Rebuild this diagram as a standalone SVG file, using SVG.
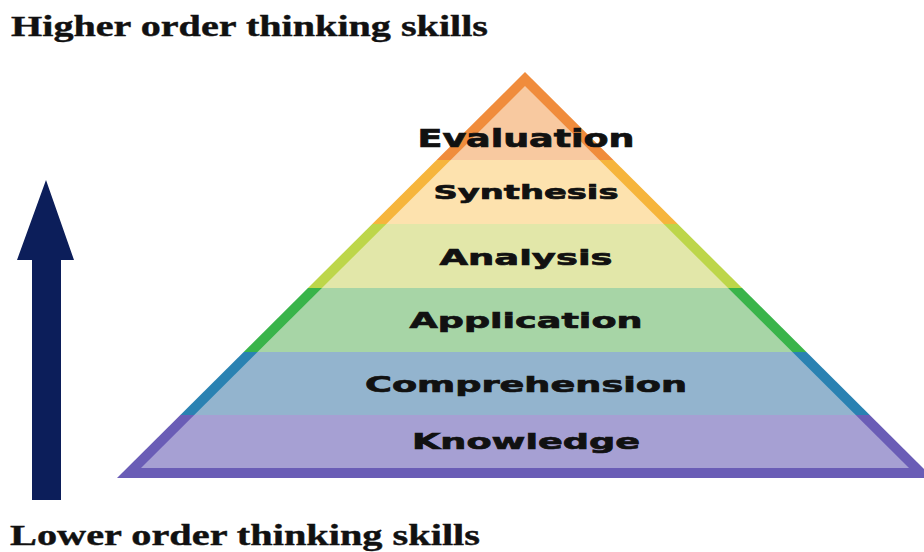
<svg xmlns="http://www.w3.org/2000/svg" width="924" height="552" viewBox="0 0 924 552">
  <defs>
    <!-- outer outline of the pyramid and its inset (edge band is the difference) -->
    <clipPath id="outer">
      <polygon points="525,72 117,478 933,478"/>
    </clipPath>
    <clipPath id="inner">
      <polygon points="525,86 141,468 909,468"/>
    </clipPath>
  </defs>
  <style>
    .heading { font-family: "Liberation Serif", "DejaVu Serif", serif; font-weight: bold; font-size: 29px; fill: #111; stroke: #111; stroke-width: 0.4px; }
    .label { font-family: "DejaVu Sans", "Verdana", sans-serif; font-weight: bold; fill: #111; stroke: #111; stroke-width: 0.7px; text-anchor: middle; }
    .edge { clip-path: url(#outer); }
    .face { clip-path: url(#inner); }
  </style>

  <rect x="0" y="0" width="924" height="552" fill="#ffffff"/>

  <text class="heading" x="11" y="36" textLength="477" lengthAdjust="spacingAndGlyphs">Higher order thinking skills</text>
  <text class="heading" x="10" y="545" textLength="470" lengthAdjust="spacingAndGlyphs">Lower order thinking skills</text>

  <!-- upward arrow -->
  <g id="arrow">
    <polygon points="46,180 74,260 61,260 61,500 32,500 32,260 17,260" fill="#0c1e5a"/>
  </g>

  <!-- pyramid levels, top to bottom -->
  <g id="evaluation">
    <rect class="edge" x="100" y="60" width="850" height="100" fill="#f08c3c"/>
    <rect class="face" x="100" y="60" width="850" height="100" fill="#f8c9a0"/>
    <text class="label" x="526" y="147" font-size="24" textLength="217" lengthAdjust="spacingAndGlyphs">Evaluation</text>
  </g>
  <g id="synthesis">
    <rect class="edge" x="100" y="160" width="850" height="64" fill="#f6b53c"/>
    <rect class="face" x="100" y="160" width="850" height="64" fill="#fde2ae"/>
    <text class="label" x="526" y="199" font-size="20" textLength="185" lengthAdjust="spacingAndGlyphs">Synthesis</text>
  </g>
  <g id="analysis">
    <rect class="edge" x="100" y="224" width="850" height="64" fill="#bdd64a"/>
    <rect class="face" x="100" y="224" width="850" height="64" fill="#e2e7a9"/>
    <text class="label" x="526" y="265" font-size="22" textLength="173" lengthAdjust="spacingAndGlyphs">Analysis</text>
  </g>
  <g id="application">
    <rect class="edge" x="100" y="288" width="850" height="64" fill="#39b44a"/>
    <rect class="face" x="100" y="288" width="850" height="64" fill="#a7d5a6"/>
    <text class="label" x="526" y="328" font-size="22" textLength="233" lengthAdjust="spacingAndGlyphs">Application</text>
  </g>
  <g id="comprehension">
    <rect class="edge" x="100" y="352" width="850" height="63" fill="#2a82b2"/>
    <rect class="face" x="100" y="352" width="850" height="63" fill="#93b4ce"/>
    <text class="label" x="526" y="392" font-size="22" textLength="322" lengthAdjust="spacingAndGlyphs">Comprehension</text>
  </g>
  <g id="knowledge">
    <rect class="edge" x="100" y="415" width="850" height="70" fill="#6a5db6"/>
    <rect class="face" x="100" y="415" width="850" height="70" fill="#a6a0d3"/>
    <text class="label" x="526" y="449" font-size="22" textLength="228" lengthAdjust="spacingAndGlyphs">Knowledge</text>
  </g>

  <g id="connectors"/>
</svg>
